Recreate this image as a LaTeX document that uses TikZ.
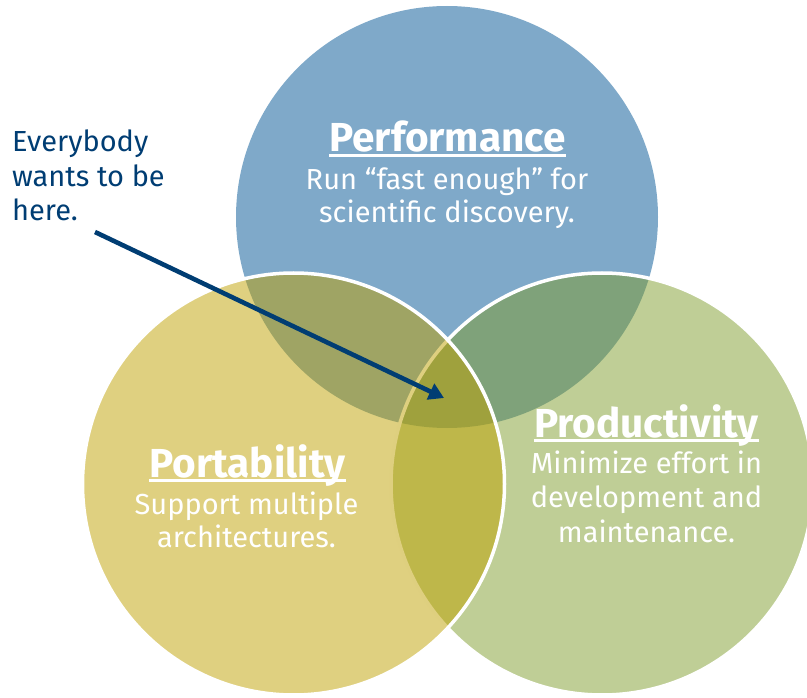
\documentclass[tikz,border=0pt]{standalone}
\usepackage{fontspec}
\setmainfont{Fira Sans}
\usetikzlibrary{arrows.meta}

\definecolor{perfblue}{HTML}{7FA9C9}
\definecolor{prodgreen}{HTML}{7F9D2D}
\definecolor{portyellow}{HTML}{BFA101}
\definecolor{notenavy}{HTML}{003D73}

\begin{document}
\begin{tikzpicture}[x=1pt,y=-1pt,
  disc/.style={fill opacity=0.5, draw=white, draw opacity=1, line width=3.5pt},
  heading/.style={text=white, font=\fontsize{40.5}{44}\selectfont\bfseries, inner sep=0pt, anchor=base},
  body/.style={text=white, font=\fontsize{29}{33}\selectfont, inner sep=0pt, anchor=base},
  note/.style={text=notenavy, font=\fontsize{29}{33}\selectfont, inner sep=0pt, anchor=base west},
  underline/.style={white, line width=2.4pt},
  pointer/.style={notenavy, line width=4.6pt, -{Triangle[length=15pt,width=17pt]}}]
\useasboundingbox (0,0) rectangle (807,698);
\clip (0,0) rectangle (807,698);

% the three discs: blue underneath, then green, then yellow on top
\fill[perfblue] (447,217) circle[radius=211pt];
\filldraw[disc, fill=prodgreen] (602,484) circle[radius=211pt];
\filldraw[disc, fill=portyellow] (293.5,484) circle[radius=211pt];

% Performance
\node[heading] (perfT) at (447.5,152) {Performance};
\draw[underline] ([yshift=-3.5pt]perfT.base west) -- ([yshift=-3.5pt]perfT.base east);
\node[body] (perf1) at (447,190) {Run “fast enough” for};
\node[body] (perf2) at (447,223) {scientific discovery.};

% Portability
\node[heading] (portT) at (247.5,477) {Portability};
\draw[underline] ([yshift=-3.5pt]portT.base west) -- ([yshift=-3.5pt]portT.base east);
\node[body] (port1) at (246.5,514) {Support multiple};
\node[body] (port2) at (246.5,547) {architectures.};

% Productivity
\node[heading] (prodT) at (646.5,437) {Productivity};
\draw[underline] ([yshift=-3.5pt]prodT.base west) -- ([yshift=-3.5pt]prodT.base east);
\node[body] (prod1) at (646.5,473) {Minimize effort in};
\node[body] (prod2) at (646.5,507) {development and};
\node[body] (prod3) at (646.5,542) {maintenance.};

% callout
\node[note] (note1) at (12,152) {Everybody};
\node[note] (note2) at (12,187) {wants to be};
\node[note] (note3) at (12,221) {here.};
\coordinate (arrowStart) at (95,232);
\coordinate (arrowEnd) at (444,398);
\draw[pointer] (arrowStart) -- (arrowEnd);
\end{tikzpicture}
\end{document}
